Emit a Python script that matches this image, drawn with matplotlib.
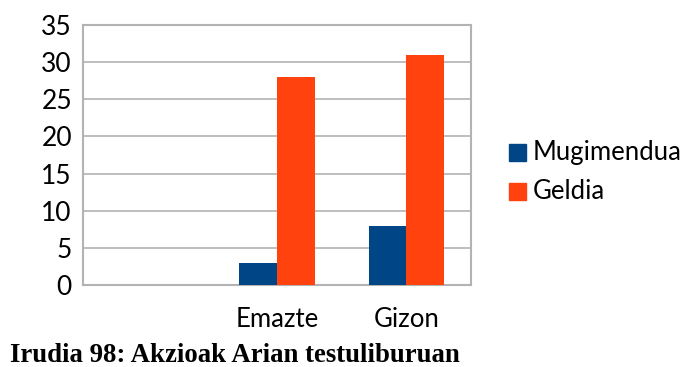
import matplotlib
matplotlib.use("Agg")
import matplotlib.pyplot as plt
from matplotlib.patches import Rectangle
import numpy as np

categories = ["", "Emazte", "Gizon"]
mugimendua = [0, 3, 8]
geldia = [0, 28, 31]
series_names = ["Mugimendua", "Geldia"]
series_colors = ["#004586", "#ff420e"]
y_ticks = [0, 5, 10, 15, 20, 25, 30, 35]
caption = "Irudia 98: Akzioak Arian testuliburuan"

W, H = 692, 367
fig = plt.figure(figsize=(W / 100, H / 100), dpi=100)
ax = fig.add_axes([83 / W, 1 - 285 / H, 388 / W, 260 / H])

x = np.arange(len(categories))
w = 0.29
ax.bar(x - w / 2, mugimendua, width=w, color=series_colors[0], zorder=3)
ax.bar(x + w / 2, geldia, width=w, color=series_colors[1], zorder=3)

ax.set_xlim(-0.5, len(categories) - 0.5)
ax.set_ylim(0, 35)
ax.set_yticks(y_ticks)
ax.set_xticks(x)
ax.set_xticklabels(categories, fontfamily="Lato", fontsize=18.5)
ax.tick_params(axis="x", length=0, pad=16)
ax.tick_params(axis="y", length=0, pad=8, labelsize=19)
for t in ax.get_yticklabels():
    t.set_fontfamily("Lato")

ax.grid(axis="y", color="#b3b3b3", linewidth=1.2, zorder=0)
for s in ax.spines.values():
    s.set_color("#b3b3b3")
    s.set_linewidth(1.5)

# legend: colour squares with series names
sq = 16.5
rows_top = [144, 183]
for name, color, top in zip(series_names, series_colors, rows_top):
    fig.patches.append(Rectangle((509 / W, 1 - (top + sq) / H), sq / W, sq / H,
                                 transform=fig.transFigure, color=color))
    fig.text(533 / W, 1 - (top + sq / 2) / H, name, fontfamily="Lato",
             fontsize=18.5, va="center", ha="left")

fig.text(10 / W, 1 - 362 / H, caption, fontfamily="Liberation Serif",
         fontweight="bold", fontsize=19.3, va="baseline", ha="left")

fig.savefig("out.png", dpi=100)
